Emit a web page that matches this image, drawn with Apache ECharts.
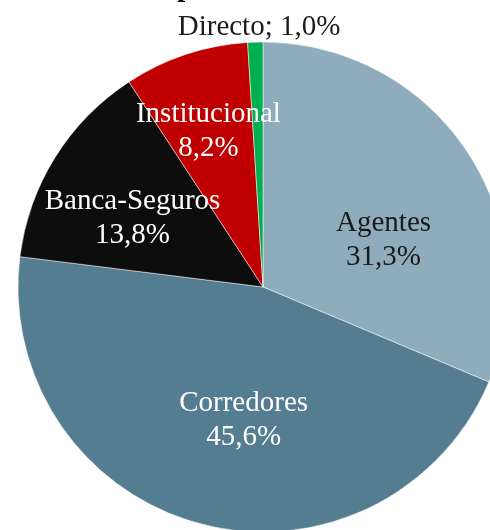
<!DOCTYPE html>
<html>
<head>
<meta charset="utf-8">
<style>
    html, body {margin: 0; padding: 0; background: #fff;}
    #chart {width: 490px; height: 530px;}
</style>
<script src="https://cdn.jsdelivr.net/npm/echarts@6/dist/echarts.min.js"></script>
</head>
<body>
<div id="chart"></div>
<script>
// data
const channelNames = ['Agentes', 'Corredores', 'Banca-Seguros', 'Institucional', 'Directo'];
const channelShares = [31.3, 45.6, 13.8, 8.2, 1.0];

// 颜色
const sliceColors = ['#8EACBB', '#547D91', '#0D0D0D', '#C00000', '#00B050'];
const labelColors = ['#1A1A1A', '#FFFFFF', '#FFFFFF', '#FFFFFF', '#1A1A1A'];
// label nudges from the default inside position
const labelNudge = [[16, 23], [13, 12], [-24, -2], [-15, -37], [0, -134]];

const fmt = v => v.toFixed(1).replace('.', ',');

const chart = echarts.init(document.getElementById('chart'));
const option = {
    animation: false,
    // title is cut off at the top of the picture
    title: {
        text: 'p',
        left: 172,
        top: -32,
        textStyle: {fontFamily: 'Liberation Serif', fontWeight: 'bold', fontSize: 30, color: '#000'}
    },
    series: [
        {
            type: 'pie',
            center: [263, 287],
            radius: 245,
            startAngle: 90,
            clockwise: true,
            label: {
                show: true,
                position: 'inside',
                fontFamily: 'Liberation Serif',
                fontSize: 29,
                lineHeight: 34,
                align: 'center'
            },
            labelLine: {show: false},
            labelLayout: params => {
                const n = labelNudge[params.dataIndex];
                return {dx: n[0], dy: n[1]};
            },
            itemStyle: {borderColor: '#fff', borderWidth: 0.5},
            emphasis: {disabled: true},
            data: channelNames.map((name, i) => ({
                name,
                value: channelShares[i],
                itemStyle: {color: sliceColors[i]},
                label: {
                    color: labelColors[i],
                    formatter: i === 4
                        ? name + '; ' + fmt(channelShares[i]) + '%'
                        : name + '\n' + fmt(channelShares[i]) + '%'
                }
            }))
        }
    ]
};
chart.setOption(option);
</script>
</body>
</html>
